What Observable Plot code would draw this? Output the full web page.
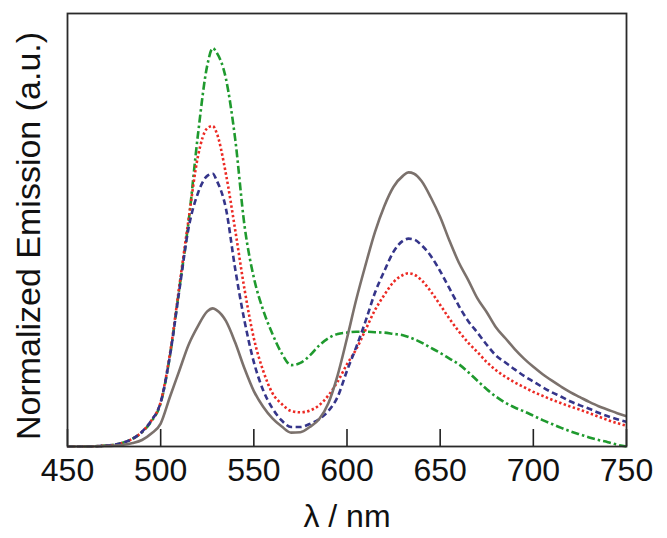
<!DOCTYPE html>
<html>
<head>
<meta charset="utf-8">
<script src="https://cdn.jsdelivr.net/npm/d3@7"></script>
<script src="https://cdn.jsdelivr.net/npm/@observablehq/plot@0.6"></script>
<style>
  html, body { margin: 0; padding: 0; background: #fff; }
  #chart svg { display: block; }
</style>
</head>
<body>
<div id="chart"></div>
<script>
const wavelengths = [450,460,470,475,480,485,490,495,500,505,510,515,520,525,528,530,535,540,545,550,555,560,565,570,575,580,585,590,595,600,605,610,615,620,625,630,633,636,640,645,650,655,660,665,670,675,680,685,690,695,700,705,710,715,720,725,730,735,740,745,750];

const greenDashDot = [0,0,0.2,0.4,0.9,1.8,3.3,5.8,10,21,36.5,52,72,88,92,91,85,71,51,39,31.5,26,21.5,18.8,19.3,21,23.3,25,26,26.3,26.5,26.5,26.4,26.3,26,25.7,25.3,24.8,24,22.8,21.6,20.3,19,17.2,15.2,13.2,11.5,10.1,9,8.1,7.1,6.1,5.2,4.3,3.5,2.8,2.1,1.5,1,0.4,0];

const redDotted = [0,0,0.2,0.4,0.9,1.8,3.4,6,10.3,21.5,37,52.5,67,73.5,74,72.5,63,50,36.3,25,17.5,12.3,9.8,8.2,7.9,8.3,9.5,11.8,15,19,22.5,27,31.5,35,38,39.6,40,39.7,38.4,35.8,32.7,29.5,26.6,24,21.8,19.5,17.6,16.1,14.8,13.7,12.6,11.7,10.8,10,9.2,8.5,7.7,6.9,6.1,5.4,4.8];

const blueDashed = [0,0,0.2,0.4,0.9,1.8,3.4,6,10.2,21,36,50.5,58.5,62.5,63,61.5,55,41,29,19.5,13,8.8,6,4.5,4.5,5.2,6.3,8.2,11.5,17.5,23,29,35.5,40.5,45,47.5,48,47.8,46.5,44,40.5,36.5,32.5,29,26.3,23.5,21,19.4,17.8,16.3,15,13.7,12.5,11.5,10.4,9.5,8.7,7.8,7,6.3,5.7];

const graySolid = [0,0,0.1,0.2,0.4,0.8,1.5,3,5.3,11.5,17.5,23.5,27.8,31.2,31.9,31.5,29,24,18,12.8,9.2,6.5,4.6,3.2,3.3,4.5,6.3,10,16.5,25,34,42,49.5,55.5,60,62.5,63.3,63,61.3,57.5,53,47.5,42.5,38.5,34.2,31,27.5,25,22.5,20.3,18.4,16.7,15.2,13.8,12.5,11.4,10.3,9.3,8.5,7.7,7];

const xTicks = [450,500,550,600,650,700,750];
const xLabel = "λ / nm";
const yLabel = "Normalized Emission (a.u.)";

const toRows = (vals) => wavelengths.map((w, i) => ({w, v: vals[i]}));
const lineStyle = {x: "w", y: "v", strokeWidth: 2.6, strokeLinecap: "butt", strokeLinejoin: "round", curve: "monotone-x"};

const chart = Plot.plot({
  width: 667,
  height: 538,
  marginLeft: 67,
  marginRight: 41,
  marginTop: 13,
  marginBottom: 92,
  x: {domain: [450, 750]},
  y: {domain: [0, 100], axis: null},
  style: {fontFamily: "'Liberation Sans', Arial, sans-serif", color: "#111", background: "#fff"},
  marks: [
    Plot.axisX({ticks: xTicks, tickSize: 17, dy: -17, text: null, label: null, strokeWidth: 1.6, stroke: "#222"}),
    Plot.axisX({ticks: xTicks, tickSize: 0, tickPadding: 12, fontSize: 32, label: xLabel, labelAnchor: "center", labelOffset: 80, labelArrow: "none"}),
    Plot.text([yLabel], {text: d => d, frameAnchor: "left", rotate: -90, textAnchor: "middle", lineAnchor: "middle", dx: -38, dy: 6, fontSize: 34, fill: "#111"}),
    Plot.line(toRows(greenDashDot), {...lineStyle, stroke: "#1f9a2e", strokeDasharray: "8,3,2.5,3"}),
    Plot.line(toRows(redDotted), {...lineStyle, stroke: "#ec2a24", strokeDasharray: "2.4,2.4"}),
    Plot.line(toRows(blueDashed), {...lineStyle, stroke: "#35358a", strokeDasharray: "6,3.5"}),
    Plot.line(toRows(graySolid), {...lineStyle, stroke: "#7b716c"}),
    Plot.frame({stroke: "#2a2a2a", strokeWidth: 1.8})
  ]
});
document.getElementById("chart").appendChild(chart);
</script>
</body>
</html>
